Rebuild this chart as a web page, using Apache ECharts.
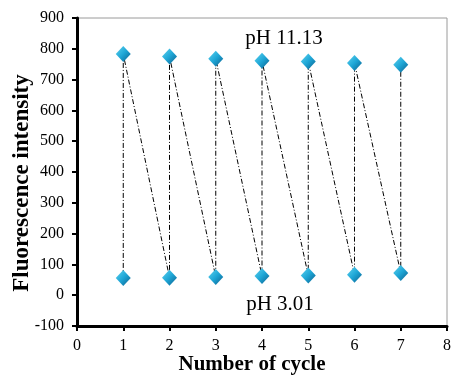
<!DOCTYPE html>
<html><head><meta charset="utf-8">
<script src="https://cdn.jsdelivr.net/npm/echarts@6/dist/echarts.min.js"></script>
<style>html,body{margin:0;padding:0;background:#fff}#c{width:453px;height:377px}</style>
</head><body><div id="c"></div>
<script>
const cycles = [1, 2, 3, 4, 5, 6, 7];
const highValues = [783, 775, 768, 761, 759, 754, 748];
const lowValues = [56, 57, 59, 62, 64, 66, 72];
const xTicks = [0, 1, 2, 3, 4, 5, 6, 7, 8];
const yTicks = [-100, 0, 100, 200, 300, 400, 500, 600, 700, 800, 900];
const highLabel = 'pH 11.13';
const lowLabel = 'pH 3.01';
const xTitle = 'Number of cycle';
const yTitle = 'Fluorescence intensity';

const seq = [];
cycles.forEach((c, i) => { seq.push([c, lowValues[i]]); seq.push([c, highValues[i]]); });

const chart = echarts.init(document.getElementById('c'));
const font = 'Liberation Serif, Times New Roman, serif';
chart.setOption({
  animation: false,
  grid: { left: 77, right: 6, top: 18, bottom: 51, show: true, borderColor: '#9a9a9a', borderWidth: 1,
          containLabel: false, outerBoundsMode: 'none' },
  xAxis: {
    type: 'value', min: xTicks[0], max: xTicks[xTicks.length - 1], interval: 1,
    axisLine: { onZero: false, lineStyle: { color: '#000', width: 3 } },
    axisTick: { length: 5, lineStyle: { color: '#000', width: 2 } },
    axisLabel: { fontFamily: font, fontSize: 16, color: '#000', margin: 12 },
    splitLine: { show: false }
  },
  yAxis: {
    type: 'value', min: yTicks[0], max: yTicks[yTicks.length - 1], interval: 100,
    axisLine: { lineStyle: { color: '#000', width: 3 } },
    axisTick: { length: 5, lineStyle: { color: '#000', width: 2 } },
    axisLabel: { fontFamily: font, fontSize: 16, color: '#000', margin: 13 },
    splitLine: { show: false }
  },
  graphic: [
    { type: 'text', x: 284, y: 38, style: { text: highLabel, font: '21px ' + font, fill: '#000', textAlign: 'center', textVerticalAlign: 'middle' } },
    { type: 'text', x: 280, y: 304, style: { text: lowLabel, font: '21px ' + font, fill: '#000', textAlign: 'center', textVerticalAlign: 'middle' } },
    { type: 'text', x: 252, y: 365, style: { text: xTitle, font: 'bold 21px ' + font, fill: '#000', textAlign: 'center', textVerticalAlign: 'middle' } },
    { type: 'text', x: 22, y: 183, rotation: Math.PI / 2, style: { text: yTitle, font: 'bold 23px ' + font, fill: '#000', textAlign: 'center', textVerticalAlign: 'middle' } }
  ],
  series: [{
    type: 'line', data: seq,
    symbol: 'diamond', symbolSize: [15, 16],
    lineStyle: { color: '#000', width: 1, type: [5, 2, 1, 2] },
    itemStyle: {
      color: new echarts.graphic.LinearGradient(0, 0, 1, 1, [
        { offset: 0, color: '#5fd4f0' }, { offset: 0.5, color: '#1ea6d6' }, { offset: 1, color: '#0b5e8c' }
      ]),
      borderWidth: 0
    }
  }]
});
</script></body></html>
